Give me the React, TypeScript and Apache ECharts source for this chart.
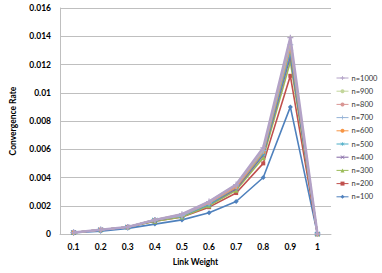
import React, { useEffect, useRef } from "react";
import * as echarts from "echarts";

const categories = ["0.1", "0.2", "0.3", "0.4", "0.5", "0.6", "0.7", "0.8", "0.9", "1"];
const yTicks = [0, 0.002, 0.004, 0.006, 0.008, 0.01, 0.012, 0.014, 0.016];

const n100 = [0.0001, 0.0002, 0.0004, 0.0007, 0.001, 0.0015, 0.0023, 0.004, 0.009, 0];
const n200 = [0.0001, 0.0003, 0.0005, 0.0009, 0.0012, 0.0019, 0.0029, 0.005, 0.0112, 0];
const n300 = [0.0001, 0.0003, 0.0005, 0.0009, 0.0012, 0.002, 0.0031, 0.0054, 0.0122, 0];
const n400 = [0.0001, 0.0003, 0.0005, 0.00095, 0.0013, 0.0021, 0.0032, 0.0056, 0.0126, 0];
const n500 = [0.0001, 0.0003, 0.0005, 0.001, 0.0013, 0.0021, 0.0033, 0.0057, 0.0129, 0];
const n600 = [0.0001, 0.0003, 0.0005, 0.001, 0.0013, 0.0022, 0.0033, 0.0058, 0.0132, 0];
const n700 = [0.0001, 0.0003, 0.0005, 0.001, 0.0013, 0.0022, 0.0034, 0.0059, 0.0134, 0];
const n800 = [0.0001, 0.0003, 0.0005, 0.001, 0.0014, 0.0022, 0.0034, 0.006, 0.0136, 0];
const n900 = [0.0001, 0.0003, 0.0005, 0.001, 0.0014, 0.0023, 0.0035, 0.006, 0.0137, 0];
const n1000 = [0.0001, 0.0003, 0.0005, 0.001, 0.0014, 0.0023, 0.0035, 0.0061, 0.0139, 0];

const seriesNames = ["n=100", "n=200", "n=300", "n=400", "n=500", "n=600", "n=700", "n=800", "n=900", "n=1000"];
const seriesData = [n100, n200, n300, n400, n500, n600, n700, n800, n900, n1000];
const legendOrder = ["n=1000", "n=900", "n=800", "n=700", "n=600", "n=500", "n=400", "n=300", "n=200", "n=100"];

const PLUS = "path://M4,0H6V4H10V6H6V10H4V6H0V4H4Z";
const XMARK = "path://M1,0L5,4L9,0L10,1L6,5L10,9L9,10L5,6L1,10L0,9L4,5L0,1Z";
const STAR = "path://M4.3,0H5.7V3.6L8.8,1.2L9.6,2.3L6.2,5L9.6,7.7L8.8,8.8L5.7,6.4V10H4.3V6.4L1.2,8.8L0.4,7.7L3.8,5L0.4,2.3L1.2,1.2L4.3,3.6Z";

const styles = [
  { color: "#4F81BD", symbol: "diamond", size: 5 },
  { color: "#C0504D", symbol: "rect", size: 4 },
  { color: "#9BBB59", symbol: "triangle", size: 5 },
  { color: "#8064A2", symbol: XMARK, size: 5 },
  { color: "#4BACC6", symbol: STAR, size: 6 },
  { color: "#F79646", symbol: "circle", size: 4 },
  { color: "#95B3D7", symbol: PLUS, size: 6 },
  { color: "#D99694", symbol: "none", size: 0 },
  { color: "#C3D69B", symbol: "none", size: 0 },
  { color: "#B3A2C7", symbol: PLUS, size: 6 },
];

const FONT = "Lato, 'Liberation Sans', sans-serif";

export default function App() {
  const ref = useRef<HTMLDivElement>(null);
  useEffect(() => {
    if (!ref.current) return;
    const chart = echarts.init(ref.current, undefined, { renderer: "svg" });
    chart.setOption({
      animation: false,
      backgroundColor: "#ffffff",
      grid: { left: 55, right: 51, top: 8, bottom: 39, containLabel: false },
      legend: {
        orient: "vertical",
        left: 336,
        top: 73,
        itemWidth: 12,
        itemHeight: 5,
        itemGap: 3.2,
        padding: 0,
        data: legendOrder,
        lineStyle: { width: 1 },
        textStyle: { fontFamily: FONT, fontSize: 7.5, color: "#333", lineHeight: 10, padding: [0, 0, 0, -2] },
      },
      xAxis: {
        type: "category",
        data: categories,
        boundaryGap: true,
        name: "Link Weight",
        nameLocation: "middle",
        nameGap: 23,
        nameTextStyle: { fontFamily: FONT, fontSize: 8.5, fontWeight: "bold", color: "#000" },
        axisLine: { lineStyle: { color: "#BFBFBF" } },
        axisTick: { show: false },
        axisLabel: { fontFamily: FONT, fontSize: 8.5, fontWeight: "bold", color: "#000", margin: 8 },
      },
      yAxis: {
        type: "value",
        min: yTicks[0],
        max: yTicks[yTicks.length - 1],
        interval: yTicks[1] - yTicks[0],
        name: "Convergence Rate",
        nameLocation: "middle",
        nameGap: 43,
        nameTextStyle: { fontFamily: FONT, fontSize: 8.5, fontWeight: "bold", color: "#000" },
        axisLine: { show: true, lineStyle: { color: "#BFBFBF" } },
        axisTick: { show: false },
        splitLine: { lineStyle: { color: "#BFBFBF" } },
        axisLabel: {
          fontFamily: FONT,
          fontSize: 8.5,
          fontWeight: "bold",
          color: "#000",
          margin: 9,
          formatter: (v: number) => String(Number(v.toFixed(3))),
        },
      },
      series: seriesNames.map((name, i) => ({
        name,
        type: "line",
        data: seriesData[i],
        symbol: styles[i].symbol,
        symbolSize: styles[i].size,
        showSymbol: styles[i].symbol !== "none",
        lineStyle: { color: styles[i].color, width: i === 9 ? 2.5 : 1.6 },
        itemStyle: { color: styles[i].color },
        z: 2 + i,
      })),
    });
    return () => chart.dispose();
  }, []);
  return (
    <div
      ref={ref}
      style={{ position: "absolute", left: 0, top: 0, width: 382, height: 273 }}
    />
  );
}
